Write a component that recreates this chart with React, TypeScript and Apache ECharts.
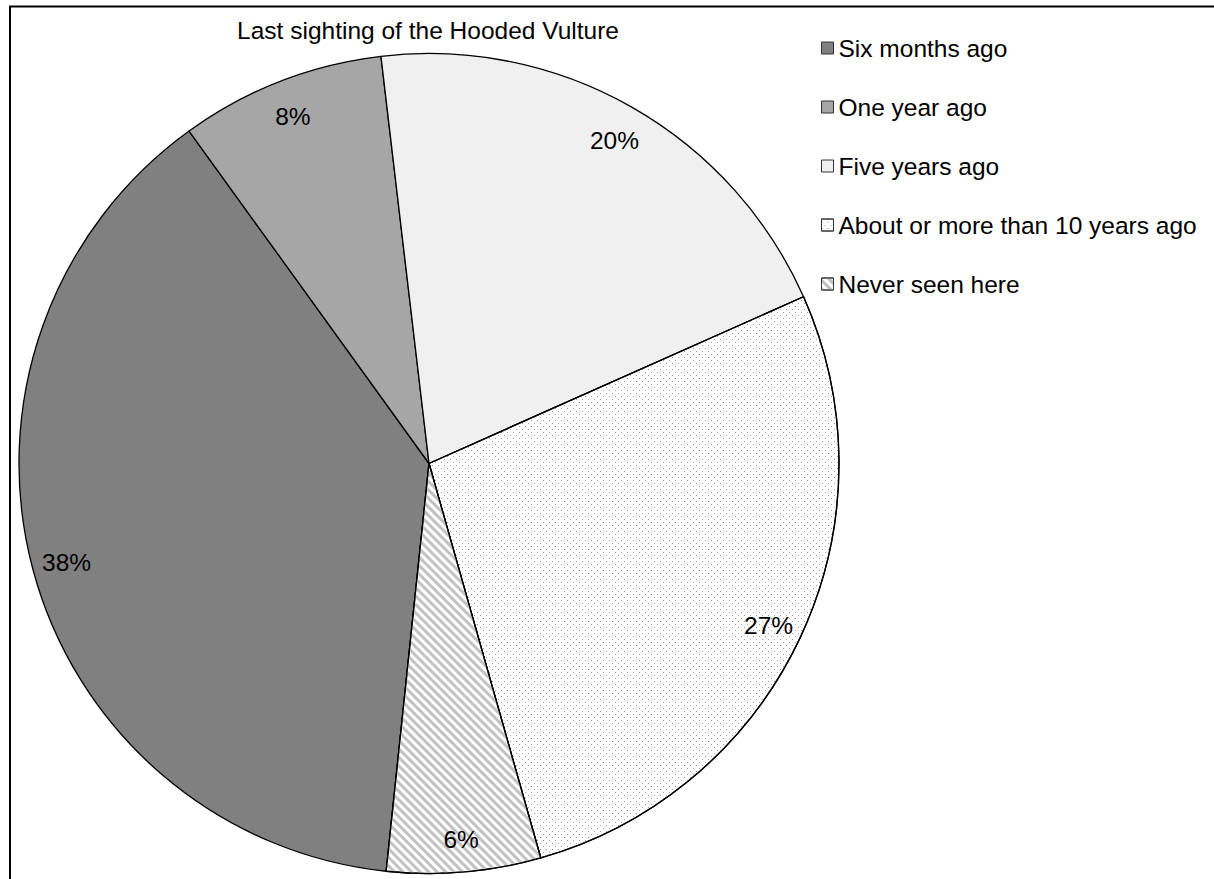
import React, { useEffect, useRef } from "react";
import * as echarts from "echarts";

// Share of respondents by when they last saw a Hooded Vulture (percent)
const categories = [
  "Six months ago",
  "One year ago",
  "Five years ago",
  "About or more than 10 years ago",
  "Never seen here",
];
const percents = [38, 8, 20, 27, 6];
const chartTitle = "Last sighting of the Hooded Vulture";

const FONT = "'Liberation Sans', Arial, sans-serif";

const fills = ["#808080", "#a6a6a6", "#f0f0f0", "#ffffff", "#ffffff"];

const decals: Array<any> = [
  null,
  null,
  null,
  {
    // sparse staggered dots
    symbol: "rect",
    symbolSize: 1,
    color: "#a0a0a0",
    dashArrayX: [
      [1, 5],
      [0, 3, 1, 2],
    ],
    dashArrayY: [1, 2],
    rotation: 0,
  },
  {
    // downward diagonal stripes
    symbol: "rect",
    symbolSize: 1,
    color: "#c2c2c2",
    dashArrayX: [1, 0],
    dashArrayY: [2.5, 2.5],
    rotation: Math.PI / 4,
  },
];

export default function App() {
  const ref = useRef<HTMLDivElement>(null);

  useEffect(() => {
    if (!ref.current) return;
    const chart = echarts.init(ref.current, undefined, { renderer: "svg" });

    const sliceData = categories.map((name, i) => ({
      name,
      value: percents[i],
      itemStyle: {
        color: fills[i],
        ...(decals[i] ? { decal: decals[i] } : {}),
      },
    }));

    const labelData = categories.map((name, i) => ({ name, value: percents[i] }));

    chart.setOption({
      animation: false,
      backgroundColor: "#ffffff",
      textStyle: { fontFamily: FONT },
      legend: {
        data: categories,
        orient: "vertical",
        left: 816,
        top: 30,
        itemGap: 33,
        itemWidth: 12,
        itemHeight: 12,
        icon: "rect",
        itemStyle: { borderColor: "#333", borderWidth: 1 },
        textStyle: { fontSize: 24.5, lineHeight: 26, color: "#000", fontFamily: FONT },
        selectedMode: false,
      },
      graphic: [
        {
          type: "rect",
          shape: { x: 10, y: 6.5, width: 1400, height: 1000 },
          style: { fill: "none", stroke: "#000", lineWidth: 2 },
          silent: true,
          z: 100,
        },
        {
          type: "text",
          x: 428,
          y: 30,
          style: {
            text: chartTitle,
            fontSize: 24.5,
            fontFamily: FONT,
            fill: "#000",
            align: "center",
            verticalAlign: "middle",
          },
          silent: true,
        },
      ],
      series: [
        {
          type: "pie",
          center: [429, 463.5],
          radius: [0, 410],
          startAngle: 264,
          clockwise: true,
          avoidLabelOverlap: false,
          label: { show: false },
          labelLine: { show: false },
          emphasis: { disabled: true },
          itemStyle: { borderColor: "#000", borderWidth: 1.3 },
          data: sliceData,
        },
        {
          // transparent ring that carries the percentage labels near the rim
          type: "pie",
          center: [429, 466],
          radius: [334, 410],
          startAngle: 264,
          clockwise: true,
          silent: true,
          avoidLabelOverlap: false,
          legendHoverLink: false,
          itemStyle: { color: "rgba(0,0,0,0)", borderWidth: 0 },
          emphasis: { disabled: true },
          labelLine: { show: false },
          label: {
            show: true,
            position: "inside",
            formatter: (p: any) => `${p.value}%`,
            fontSize: 24.5,
            color: "#000",
            fontFamily: FONT,
          },
          data: labelData,
          z: 3,
        },
      ],
    });

    return () => chart.dispose();
  }, []);

  return (
    <div
      ref={ref}
      style={{ position: "fixed", left: 0, top: 0, width: 1214, height: 879 }}
    />
  );
}
